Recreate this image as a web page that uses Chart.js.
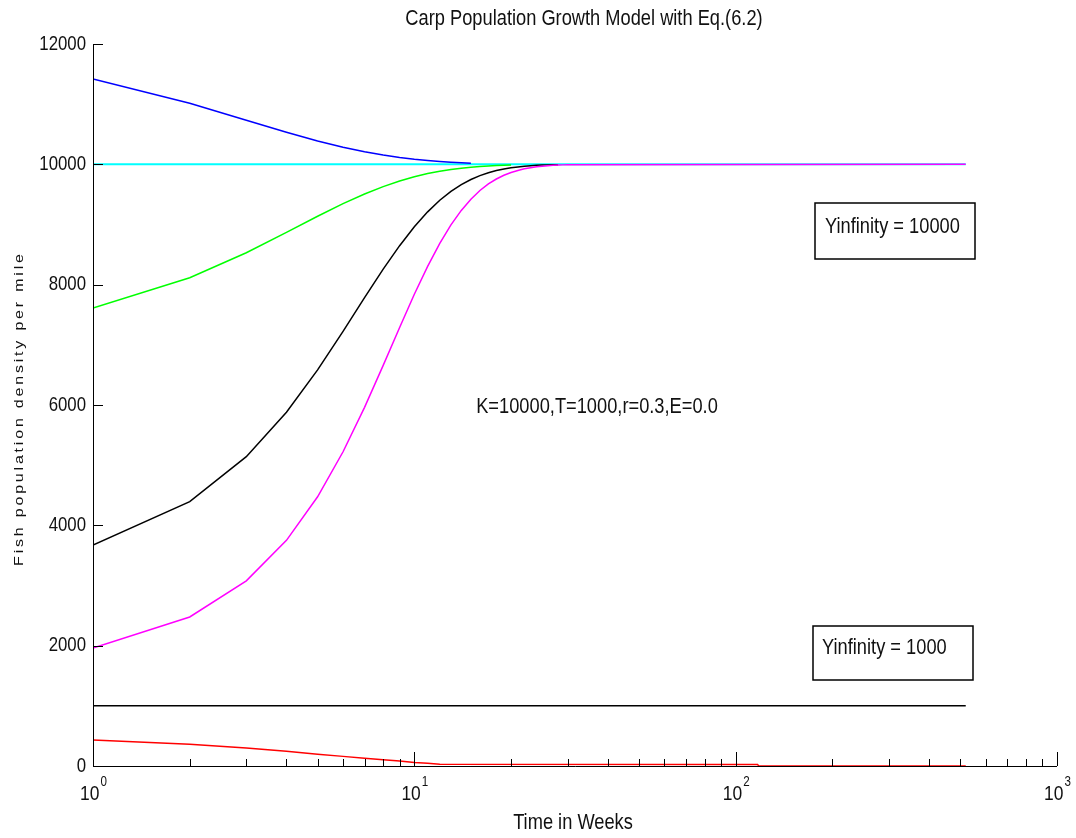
<!DOCTYPE html>
<html>
<head>
<meta charset="utf-8">
<script src="https://cdn.jsdelivr.net/npm/chart.js@4.4.0/dist/chart.umd.min.js"></script>
<style>
  html, body { margin: 0; padding: 0; background: #fff; }
  #wrap { width: 1076px; height: 838px; }
</style>
</head>
<body>
<div id="wrap"><canvas id="grafico"></canvas></div>
<script>
/* Carp population growth, Eq.(6.2) - trajectories on a log time axis */

const FONTE = '"Liberation Sans", Arial, sans-serif';
const ESTREITO = 0.83;   // horizontal squeeze of the text (narrow MATLAB look)

// time samples (weeks)
const semanas = [1, 2, 3, 4, 5, 6, 7, 8, 9, 10, 11, 12, 13, 14, 15, 16, 17, 18, 19, 20,
                 21, 22, 23, 24, 25, 26, 27, 28, 29, 30];
const semanaFinal = 520;

// y(0) above K
const serieAzul = [11420, 11014, 10732, 10532, 10389, 10285, 10209, 10154, 10114, 10084,
                   10062, 10046, 10034, 10025, 10019];
// y(0) = K
const serieCiano = [10000, 10000];
const serieVerde = [7612, 8114, 8531, 8868, 9137, 9346, 9507, 9630, 9723, 9793,
                    9846, 9885, 9914, 9936, 9953, 9965, 9974, 9981, 9986, 9990];
const seriePreta = [3673, 4394, 5141, 5881, 6584, 7223, 7784, 8258, 8648, 8962,
                    9210, 9403, 9550, 9663, 9748, 9812, 9860, 9896, 9923, 9943,
                    9957, 9968, 9977, 9983, 9987, 9991, 9993, 9995];
const serieMagenta = [1961, 2477, 3077, 3750, 4475, 5223, 5961, 6658, 7289, 7840,
                      8305, 8687, 8993, 9234, 9421, 9565, 9674, 9756, 9818, 9865,
                      9899, 9925, 9944, 9959, 9969, 9977, 9983, 9987, 9991, 9993, 10000];
// threshold level T
const serieLimiar = [1000, 1000];
// y(0) below T -> extinction
const serieVermelha = [432, 360, 298, 245, 197, 160, 130, 103, 83, 58, 44, 28];
const vermelhaCauda = [{ x: 117, y: 25 }, { x: 118, y: 0 }, { x: 520, y: 0 }];

// tick labels
const expoentesX = [0, 1, 2, 3];
const ticksY = [0, 2000, 4000, 6000, 8000, 10000, 12000];

const titulo = 'Carp Population Growth Model with Eq.(6.2)';
const tituloX = 'Time in Weeks';
const tituloY = 'Fish population density per mile';
const textoParametros = 'K=10000,T=1000,r=0.3,E=0.0';
const caixasYinf = [
  { texto: 'Yinfinity = 10000', x: 815, y: 203, w: 160, h: 56, tx: 825, ty: 227 },
  { texto: 'Yinfinity = 1000', x: 813, y: 626, w: 160, h: 54, tx: 822, ty: 648 }
];

function pontos(valores, extra) {
  const arr = valores.map((v, i) => ({ x: semanas[i], y: v }));
  return extra ? arr.concat(extra) : arr;
}

function serie(cor, data, largura) {
  return {
    data: data,
    borderColor: cor,
    backgroundColor: cor,
    borderWidth: largura || 1.5,
    pointRadius: 0,
    tension: 0,
    fill: false
  };
}

// squeezed text helper
function texto(ctx, s, x, y, tam, alinh, sx) {
  ctx.save();
  ctx.translate(x, y);
  ctx.scale(sx || ESTREITO, 1);
  ctx.font = tam + 'px ' + FONTE;
  ctx.textAlign = alinh || 'left';
  ctx.textBaseline = 'middle';
  ctx.fillText(s, 0, 0);
  ctx.restore();
}

// axes with inward tick marks (MATLAB style) + tick labels
const eixosPlugin = {
  id: 'eixos',
  afterDatasetsDraw(chart) {
    const { ctx, chartArea: ca, scales: { x, y } } = chart;
    ctx.save();
    ctx.strokeStyle = '#000';
    ctx.lineWidth = 1;
    ctx.beginPath();
    ctx.moveTo(ca.left + 0.5, ca.top);
    ctx.lineTo(ca.left + 0.5, ca.bottom + 0.5);
    ctx.lineTo(ca.right, ca.bottom + 0.5);
    ctx.stroke();

    ctx.beginPath();
    expoentesX.forEach((e, k) => {
      const base = Math.pow(10, e);
      const px = Math.round(x.getPixelForValue(base)) + 0.5;
      ctx.moveTo(px, ca.bottom);
      ctx.lineTo(px, ca.bottom - 14);
      if (k === expoentesX.length - 1) return;
      for (let m = 2; m <= 9; m++) {
        const pm = Math.round(x.getPixelForValue(m * base)) + 0.5;
        ctx.moveTo(pm, ca.bottom);
        ctx.lineTo(pm, ca.bottom - 7);
      }
    });
    ticksY.forEach(v => {
      const py = Math.round(y.getPixelForValue(v)) + 0.5;
      ctx.moveTo(ca.left, py);
      ctx.lineTo(ca.left + 10, py);
    });
    ctx.stroke();

    ctx.fillStyle = '#111';
    // y tick labels
    ticksY.forEach(v => {
      texto(ctx, String(v), ca.left - 7, y.getPixelForValue(v), 21, 'right', 0.8);
    });
    // x tick labels 10^n
    expoentesX.forEach(e => {
      const px = x.getPixelForValue(Math.pow(10, e));
      ctx.font = '21px ' + FONTE;
      const wBase = ctx.measureText('10').width * ESTREITO;
      ctx.font = '14px ' + FONTE;
      const wExp = ctx.measureText(String(e)).width * ESTREITO;
      const x0 = px - (wBase + wExp) / 2;
      texto(ctx, '10', x0, ca.bottom + 28, 21, 'left');
      texto(ctx, String(e), x0 + wBase + 1, ca.bottom + 16, 14, 'left');
    });
    ctx.restore();
  }
};

// titles, parameter text and Yinfinity boxes
const notasPlugin = {
  id: 'notas',
  afterDraw(chart) {
    const { ctx } = chart;
    ctx.save();
    ctx.fillStyle = '#111';
    texto(ctx, titulo, 584, 19, 22, 'center');
    texto(ctx, tituloX, 573, 823, 22, 'center');
    texto(ctx, textoParametros, 597, 407, 22, 'center');

    // rotated y title, letter-spaced
    ctx.save();
    ctx.translate(20, 410);
    ctx.scale(0.78, 1);
    ctx.rotate(-Math.PI / 2);
    ctx.font = '16px ' + FONTE;
    ctx.textBaseline = 'middle';
    const espaco = 2.8;
    const larg = [...tituloY].reduce((a, c) => a + ctx.measureText(c).width + espaco, -espaco);
    let cx = -larg / 2;
    for (const c of tituloY) {
      ctx.fillText(c, cx, 0);
      cx += ctx.measureText(c).width + espaco;
    }
    ctx.restore();

    ctx.strokeStyle = '#000';
    ctx.lineWidth = 1.5;
    caixasYinf.forEach(c => {
      ctx.strokeRect(c.x, c.y, c.w, c.h);
      texto(ctx, c.texto, c.tx, c.ty, 22, 'left');
    });
    ctx.restore();
  }
};

const ctx = document.getElementById('grafico').getContext('2d');
new Chart(ctx, {
  type: 'line',
  data: {
    datasets: [
      serie('#ff00ff', pontos(serieMagenta.slice(0, 30), [{ x: semanaFinal, y: serieMagenta[30] }])),
      serie('#000000', pontos(seriePreta)),
      serie('#00ff00', pontos(serieVerde)),
      serie('#0000ff', pontos(serieAzul)),
      serie('#ff0000', pontos(serieVermelha, vermelhaCauda)),
      serie('#000000', [{ x: 1, y: serieLimiar[0] }, { x: semanaFinal, y: serieLimiar[1] }]),
      serie('#00ffff', [{ x: 1, y: serieCiano[0] }, { x: semanaFinal, y: serieCiano[1] }], 2)
    ]
  },
  options: {
    responsive: true,
    maintainAspectRatio: false,
    animation: false,
    events: [],
    layout: { padding: { left: 0, right: 19, top: 44, bottom: 0 } },
    plugins: {
      legend: { display: false },
      tooltip: { enabled: false },
      title: { display: false }
    },
    scales: {
      x: {
        type: 'logarithmic',
        min: 1,
        max: 1000,
        grid: { display: false, drawTicks: false },
        border: { display: false },
        ticks: { display: false },
        afterFit(scale) { scale.height = 72; }
      },
      y: {
        min: 0,
        max: 12000,
        grid: { display: false, drawTicks: false },
        border: { display: false },
        ticks: { display: false },
        afterFit(scale) { scale.width = 93; }
      }
    }
  },
  plugins: [eixosPlugin, notasPlugin]
});
</script>
</body>
</html>
